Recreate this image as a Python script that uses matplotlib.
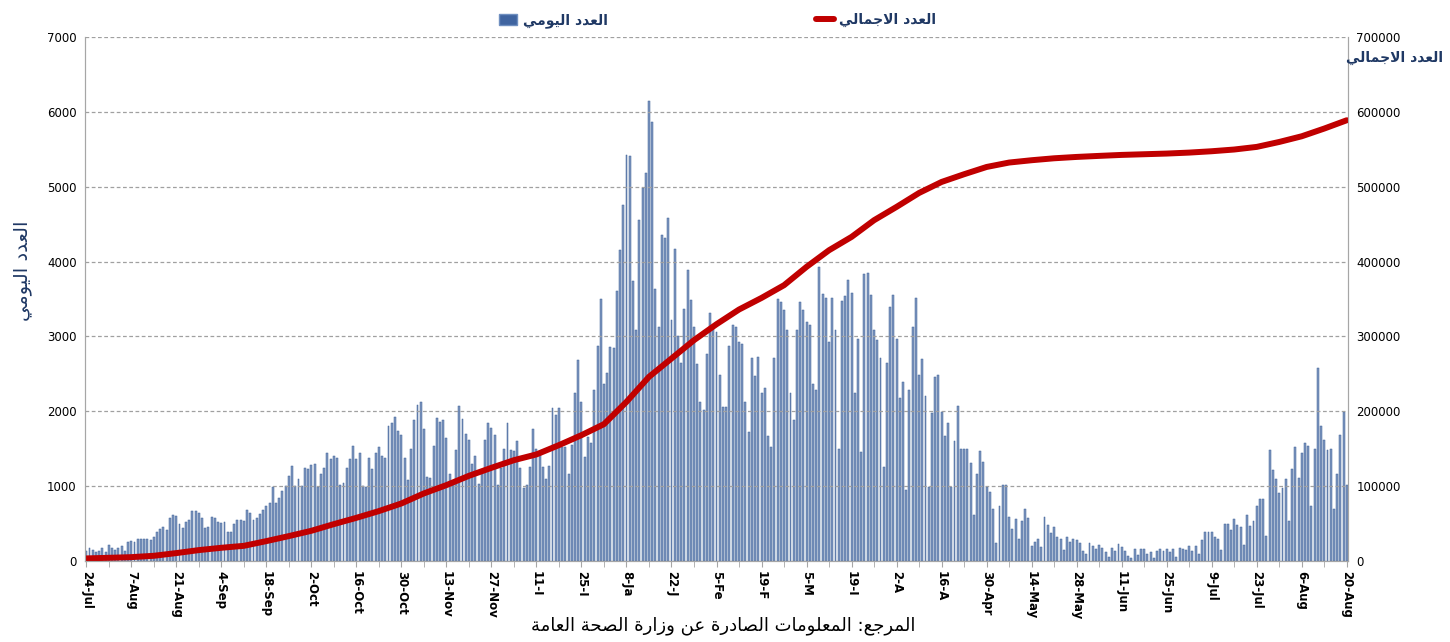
import matplotlib
matplotlib.use('Agg')
from matplotlib import pyplot as plt
from matplotlib.patches import Patch
from matplotlib.lines import Line2D
import numpy as np

# Daily counts, 24 Jul 2020 -> 20 Aug 2021 (one value per day)
daily_jul24_oct05 = [130, 170, 155, 120, 130, 180, 120, 210, 170, 150, 170, 200, 140, 250,
                     270, 260, 290, 290, 290, 290, 280, 325, 390, 430, 450, 410, 570, 620,
                     600, 490, 440, 525, 550, 670, 670, 640, 580, 440, 460, 590, 580, 525,
                     510, 525, 390, 390, 490, 550, 550, 540, 680, 645, 550, 580, 630, 680,
                     735, 780, 990, 780, 840, 940, 1005, 1135, 1270, 1000, 1100, 1000, 1250, 1230,
                     1290, 1300, 990, 1170]
daily_oct06_dec16 = [1250, 1450, 1360, 1410, 1380, 1010, 1040, 1240, 1360, 1540, 1360, 1440, 1000, 990,
                     1380, 1230, 1440, 1520, 1410, 1380, 1800, 1840, 1920, 1740, 1690, 1380, 1080, 1500,
                     1880, 2080, 2120, 1760, 1120, 1110, 1540, 1910, 1860, 1890, 1650, 1160, 1030, 1490,
                     2070, 1900, 1700, 1620, 1300, 1400, 1030, 1180, 1620, 1850, 1780, 1680, 1010, 1250,
                     1500, 1840, 1490, 1470, 1610, 1240, 980, 1020, 1260, 1770, 1500, 1460, 1260, 1090,
                     1270, 2040]
daily_dec17_feb13 = [1950, 2040, 1530, 1530, 1170, 1550, 2240, 2690, 2130, 1390, 1660, 1580, 2290, 2870,
                     3500, 2370, 2510, 2860, 2850, 3610, 4150, 4760, 5430, 5410, 3740, 3080, 4550, 4980,
                     5180, 6150, 5860, 3640, 3130, 4350, 4320, 4580, 3220, 4170, 3000, 2640, 3370, 3890,
                     3490, 3120, 2630, 2130, 2020, 2760, 3310, 3150, 3060, 2480, 2060, 2060, 2870, 3150,
                     3130, 2920, 2900]
daily_feb14_apr18 = [2120, 1730, 2710, 2470, 2720, 2240, 2310, 1670, 1530, 2710, 3500, 3460, 3360, 3090,
                     2250, 1880, 3090, 3460, 3360, 3190, 3150, 2370, 2280, 3930, 3570, 3510, 2920, 3510,
                     3080, 1500, 3470, 3540, 3750, 3580, 2240, 2960, 1460, 3840, 3850, 3550, 3090, 2950,
                     2710, 1260, 2650, 3390, 3550, 2960, 2180, 2390, 950, 2280, 3120, 3510, 2490, 2700,
                     2210, 990, 1980, 2460, 2490, 1990, 1670, 1850]
daily_apr19_jun20 = [990, 1600, 2070, 1500, 1500, 1500, 1310, 620, 1170, 1470, 1320, 990, 920, 690,
                     240, 740, 1010, 1010, 590, 430, 560, 290, 530, 690, 580, 200, 260, 290,
                     190, 590, 480, 380, 450, 320, 290, 150, 320, 260, 300, 280, 240, 130,
                     100, 240, 200, 160, 210, 180, 120, 60, 170, 130, 230, 190, 140, 70,
                     35, 160, 80, 160, 160, 100, 120]
daily_jun21_aug20 = [35, 130, 160, 130, 160, 120, 160, 60, 180, 160, 150, 200, 130, 200,
                     90, 280, 390, 390, 390, 320, 300, 150, 490, 500, 410, 560, 480, 450,
                     210, 620, 470, 530, 740, 830, 830, 330, 1490, 1220, 1090, 910, 980, 1090,
                     530, 1230, 1520, 1110, 1450, 1580, 1540, 740, 1500, 2580, 1810, 1620, 1480, 1500,
                     690, 1170, 1680, 1990, 1010]

# Cumulative total, read weekly (every 7th day from 24 Jul)
cumulative_weekly = [3600, 4400, 5300, 7100, 10700, 14700, 17800, 20400, 26700, 33400,
                     40500, 49400, 57800, 66800, 77000, 90400, 101500, 113900, 124600, 134800,
                     142500, 154900, 168200, 182900, 212700, 246100, 270600, 295100, 316400, 336000,
                     351500, 368500, 393000, 415200, 433000, 455300, 473100, 491700, 506400, 516700,
                     526400, 532300, 535400, 538000, 539800, 541200, 542500, 543400, 544300, 545600,
                     547400, 549700, 553200, 559800, 567400, 577700, 588800]

tick_labels = ['24-Jul', '7-Aug', '21-Aug', '4-Sep', '18-Sep', '2-Oct', '16-Oct', '30-Oct',
               '13-Nov', '27-Nov', '11-I', '25-I', '8-Ja', '22-J', '5-Fe', '19-F', '5-M',
               '19-I', '2-A', '16-A', '30-Apr', '14-May', '28-May', '11-Jun', '25-Jun',
               '9-Jul', '23-Jul', '6-Aug', '20-Aug']

daily = (daily_jul24_oct05 + daily_oct06_dec16 + daily_dec17_feb13 +
         daily_feb14_apr18 + daily_apr19_jun20 + daily_jun21_aug20)
days = np.arange(len(daily))
week_days = np.arange(len(cumulative_weekly)) * 7


# Arabic: matplotlib does no shaping, so map to presentation forms and reverse
FORMS = {
    'ا': ('\uFE8D', '\uFE8E', None, None),
    'د': ('\uFEA9', '\uFEAA', None, None),
    'ر': ('\uFEAD', '\uFEAE', None, None),
    'ز': ('\uFEAF', '\uFEB0', None, None),
    'و': ('\uFEED', '\uFEEE', None, None),
    'ة': ('\uFE93', '\uFE94', None, None),
    'ل': ('\uFEDD', '\uFEDE', '\uFEDF', '\uFEE0'),
    'ع': ('\uFEC9', '\uFECA', '\uFECB', '\uFECC'),
    'ي': ('\uFEF1', '\uFEF2', '\uFEF3', '\uFEF4'),
    'م': ('\uFEE1', '\uFEE2', '\uFEE3', '\uFEE4'),
    'ج': ('\uFE9D', '\uFE9E', '\uFE9F', '\uFEA0'),
    'ص': ('\uFEB9', '\uFEBA', '\uFEBB', '\uFEBC'),
    'ت': ('\uFE95', '\uFE96', '\uFE97', '\uFE98'),
    'ن': ('\uFEE5', '\uFEE6', '\uFEE7', '\uFEE8'),
    'ح': ('\uFEA1', '\uFEA2', '\uFEA3', '\uFEA4'),
    'LA': ('\uFEFB', '\uFEFC', None, None),
}


def shape(text):
    tokens = []
    i = 0
    while i < len(text):
        if text[i] == 'ل' and i + 1 < len(text) and text[i + 1] == 'ا':
            tokens.append('LA')
            i += 2
        else:
            tokens.append(text[i])
            i += 1
    out = []
    for k, t in enumerate(tokens):
        if t not in FORMS:
            out.append(t)
            continue
        prev_j = k > 0 and tokens[k - 1] in FORMS and FORMS[tokens[k - 1]][2] is not None
        next_j = FORMS[t][2] is not None and k + 1 < len(tokens) and tokens[k + 1] in FORMS
        iso, fin, ini, med = FORMS[t]
        if prev_j and next_j:
            out.append(med)
        elif prev_j:
            out.append(fin)
        elif next_j:
            out.append(ini)
        else:
            out.append(iso)
    return ''.join(reversed(out))


navy = '#1f3864'
grey = '#a6a6a6'

fig = plt.figure(figsize=(14.5, 6.42), dpi=100)
ax = fig.add_axes([0.0586, 0.126, 0.8711, 0.8164])
ax2 = ax.twinx()

ax.bar(days, daily, width=0.6, color='#7e97c0', edgecolor='#3d5f96', linewidth=0.35, zorder=1)
ax.set_xlim(-0.4, len(daily) - 0.6)
ax.set_ylim(0, 7000)
ax.set_yticks(np.arange(0, 7001, 1000))
ax.set_xticks(np.arange(0, len(daily), 14))
ax.set_xticklabels(tick_labels, rotation=-90, fontsize=8.5, fontweight='bold')
ax.set_xticks(np.arange(0, len(daily), 7), minor=True)
ax.tick_params(axis='x', which='both', length=4, color=grey, pad=3)
ax.tick_params(axis='y', length=0, labelsize=8.5, pad=6)
ax.set_axisbelow(False)
ax.yaxis.grid(True, linestyle=(0, (3, 2)), color='#a0a0a0', linewidth=0.9)

ax2.plot(week_days, cumulative_weekly, color='#c00000', linewidth=4.3,
         solid_capstyle='round', solid_joinstyle='round')
ax2.set_ylim(0, 700000)
ax2.set_yticks(np.arange(0, 700001, 100000))
ax2.tick_params(axis='y', length=0, labelsize=8.5, pad=6)

for a in (ax, ax2):
    a.spines['top'].set_visible(False)
    for s in ('left', 'right', 'bottom'):
        a.spines[s].set_color(grey)

fig.text(0.0155, 0.579, shape('العدد اليومي'), rotation=90, fontsize=14,
         color=navy, ha='center', va='center')
fig.text(0.962, 0.91, shape('العدد الاجمالي'), fontsize=10, fontweight='bold',
         color=navy, ha='center', va='center')
fig.text(0.499, 0.026, shape('المرجع: المعلومات الصادرة عن وزارة الصحة العامة'),
         fontsize=13, color='black', ha='center', va='center')

handles = [Patch(facecolor='#3f64a0', edgecolor='#6f8fc0'),
           Line2D([0], [0], color='#c00000', linewidth=4.3, solid_capstyle='round')]
fig.legend(handles, [shape('العدد اليومي'), shape('العدد الاجمالي')],
           loc='center', bbox_to_anchor=(0.495, 0.968), ncol=2, frameon=False,
           prop={'size': 10, 'weight': 'bold'}, labelcolor=navy,
           handlelength=1.3, handleheight=0.9, handletextpad=0.4, columnspacing=15)

plt.savefig('out.png', dpi=100)
